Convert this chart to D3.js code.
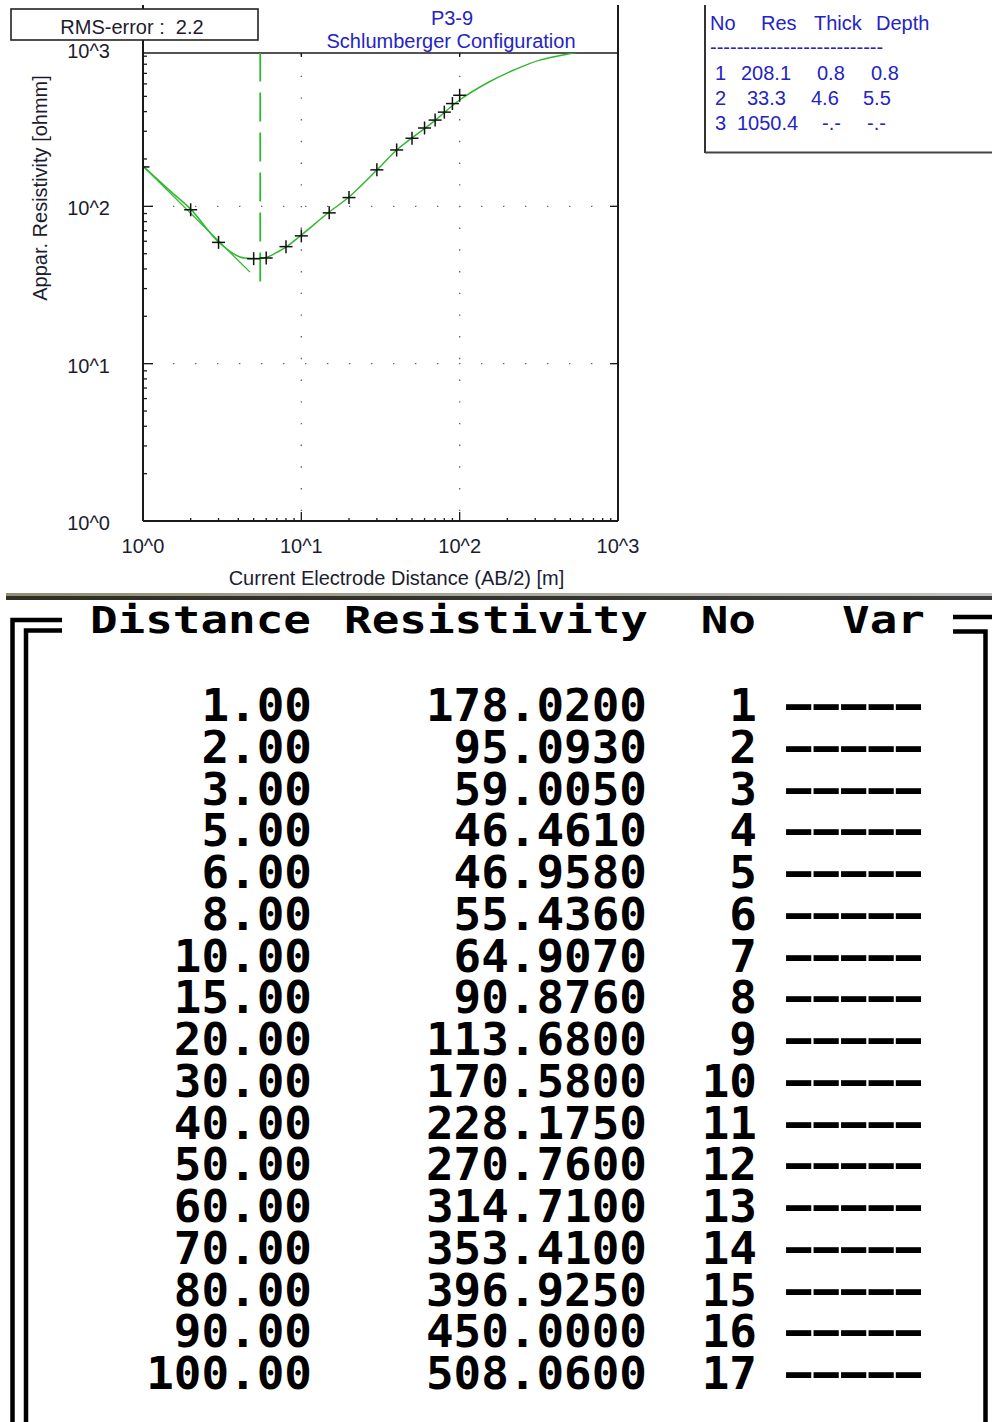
<!DOCTYPE html>
<html>
<head>
<meta charset="utf-8">
<script src="https://cdn.jsdelivr.net/npm/d3@7/dist/d3.min.js"></script>
<style>
  html, body { margin: 0; padding: 0; background: #ffffff; }
  svg { display: block; }
</style>
</head>
<body>
<script>
// ---------------- DATA ----------------
const abDistance = [1, 2, 3, 5, 6, 8, 10, 15, 20, 30, 40, 50, 60, 70, 80, 90, 100];
const appResistivity = [178.02, 95.093, 59.005, 46.461, 46.958, 55.436, 64.907, 90.876, 113.68,
                        170.58, 228.175, 270.76, 314.71, 353.41, 396.925, 450.0, 508.06];
const pointNo = [1, 2, 3, 4, 5, 6, 7, 8, 9, 10, 11, 12, 13, 14, 15, 16, 17];
const pointVar = ["-----", "-----", "-----", "-----", "-----", "-----", "-----", "-----", "-----",
                  "-----", "-----", "-----", "-----", "-----", "-----", "-----", "-----"];

// calculated model curve
const modelAB  = [1, 1.5, 2, 3, 4.1, 5, 6, 7, 8, 10, 15, 20, 30, 40, 50, 70, 100, 150, 220, 320, 520, 600];
const modelRho = [180, 124, 96, 59.3, 47.6, 46.6, 47.3, 51, 55, 65.7, 92, 114.6, 170, 228, 272, 352, 474, 610, 735, 850, 943, 968];

// auxiliary straight line
const auxAB  = [1, 4.74];
const auxRho = [180, 38.2];

// layer model
const layerNo    = ["1", "2", "3"];
const layerRes   = ["208.1", "33.3", "1050.4"];
const layerThick = ["0.8", "4.6", "-.-"];
const layerDepth = ["0.8", "5.5", "-.-"];
const boundaryDepth = 5.5;
const boundaryRes = [33.3, 1050.4];

const decadeTicks = [1, 10, 100, 1000];
const decadeLabels = ["10^0", "10^1", "10^2", "10^3"];
const rmsError = "2.2";

// ---------------- SETUP ----------------
const W = 992, H = 1422;
const svg = d3.select("body").append("svg").attr("width", W).attr("height", H);
svg.append("rect").attr("width", W).attr("height", H).attr("fill", "#ffffff");

const x = d3.scaleLog().domain([1, 1000]).range([143, 618]);
const y = d3.scaleLog().domain([1, 1000]).range([521, 49]);
const plotTop = 53;
const left = x(1), right = x(1000), bottom = y(1);

const sans = "'Liberation Sans', Arial, sans-serif";
const axisCol = "#1c1c30";
const blue = "#2424c4";
const green = "#2fb82f";

// clip
svg.append("defs").append("clipPath").attr("id", "plotclip")
  .append("rect").attr("x", left).attr("y", plotTop).attr("width", right - left).attr("height", bottom - plotTop);

// grid (dotted) at inner decades
const g = svg.append("g");
[10, 100].forEach(v => {
  g.append("line").attr("x1", x(v)).attr("x2", x(v)).attr("y1", plotTop + 1).attr("y2", bottom)
    .attr("stroke", "#666").attr("stroke-width", 1.4).attr("stroke-dasharray", "1.4,20.3");
  g.append("line").attr("x1", left + 8).attr("x2", right).attr("y1", y(v)).attr("y2", y(v))
    .attr("stroke", "#666").attr("stroke-width", 1.4).attr("stroke-dasharray", "1.4,20.6");
});

// minor tick values
const minors = [];
[1, 10, 100].forEach(d => { for (let m = 2; m <= 9; m++) minors.push(d * m); });

// ticks
const tk = svg.append("g").attr("stroke", "#1a1a1a").attr("stroke-width", 1.3);
minors.forEach(v => {
  tk.append("line").attr("x1", x(v)).attr("x2", x(v)).attr("y1", bottom).attr("y2", bottom - 3);
  tk.append("line").attr("x1", left).attr("x2", left + 4).attr("y1", y(v)).attr("y2", y(v));
});
[10, 100].forEach(v => {
  tk.append("line").attr("x1", x(v)).attr("x2", x(v)).attr("y1", bottom).attr("y2", bottom - 9);
  tk.append("line").attr("x1", left).attr("x2", left + 10).attr("y1", y(v)).attr("y2", y(v));
  tk.append("line").attr("x1", right).attr("x2", right - 8).attr("y1", y(v)).attr("y2", y(v));
  tk.append("line").attr("x1", x(v)).attr("x2", x(v)).attr("y1", plotTop).attr("y2", plotTop + 4);
});

// frame
const fr = svg.append("g").attr("stroke", "#1a1a1a").attr("fill", "none");
fr.append("line").attr("x1", left).attr("x2", left).attr("y1", 5).attr("y2", bottom).attr("stroke-width", 2);
fr.append("line").attr("x1", right).attr("x2", right).attr("y1", 5).attr("y2", bottom).attr("stroke-width", 2);
fr.append("line").attr("x1", left).attr("x2", right).attr("y1", bottom).attr("y2", bottom).attr("stroke-width", 2);
fr.append("line").attr("x1", left).attr("x2", right).attr("y1", plotTop).attr("y2", plotTop).attr("stroke-width", 1.6);

// curves
const plot = svg.append("g").attr("clip-path", "url(#plotclip)");
const lineGen = d3.line().x(d => x(d[0])).y(d => y(d[1])).curve(d3.curveCatmullRom.alpha(0.5));
plot.append("path").datum(auxAB.map((a, i) => [a, auxRho[i]]))
  .attr("d", d3.line().x(d => x(d[0])).y(d => y(d[1])))
  .attr("fill", "none").attr("stroke", green).attr("stroke-width", 1.3);
plot.append("path").datum(modelAB.map((a, i) => [a, modelRho[i]]))
  .attr("d", lineGen).attr("fill", "none").attr("stroke", green).attr("stroke-width", 1.5);
// layer boundary (dashed, drawn upward from layer-2 resistivity)
plot.append("line")
  .attr("x1", x(boundaryDepth)).attr("x2", x(boundaryDepth))
  .attr("y1", y(boundaryRes[0])).attr("y2", y(boundaryRes[1]))
  .attr("stroke", green).attr("stroke-width", 1.8).attr("stroke-dasharray", "29,11");

// crosses
const cr = plot.append("g").attr("stroke", "#111").attr("stroke-width", 1.5);
abDistance.forEach((a, i) => {
  const cx = x(a), cy = y(appResistivity[i]);
  cr.append("line").attr("x1", cx - 6.5).attr("x2", cx + 6.5).attr("y1", cy).attr("y2", cy);
  cr.append("line").attr("x1", cx).attr("x2", cx).attr("y1", cy - 6.5).attr("y2", cy + 6.5);
});

// axis labels
const lab = svg.append("g").attr("font-family", sans).attr("font-size", 20).attr("fill", axisCol);
decadeTicks.forEach((v, i) => {
  lab.append("text").attr("x", 110).attr("y", y(v) + 9).attr("text-anchor", "end").text(decadeLabels[i]);
  lab.append("text").attr("x", x(v)).attr("y", 553).attr("text-anchor", "middle").text(decadeLabels[i]);
});
lab.append("text").attr("x", (left + right) / 2 + 16).attr("y", 585).attr("text-anchor", "middle")
  .text("Current Electrode Distance (AB/2) [m]");
lab.append("text").attr("transform", "translate(47,188) rotate(-90)").attr("text-anchor", "middle")
  .text("Appar. Resistivity [ohmm]");

// RMS box
svg.append("rect").attr("x", 11).attr("y", 9).attr("width", 247).attr("height", 31)
  .attr("fill", "#ffffff").attr("stroke", "#222").attr("stroke-width", 1.6);
svg.append("text").attr("x", 132).attr("y", 34).attr("text-anchor", "middle")
  .attr("font-family", sans).attr("font-size", 20).attr("fill", axisCol)
  .attr("xml:space", "preserve").text("RMS-error :  " + rmsError);

// Title
svg.append("text").attr("x", 452).attr("y", 25).attr("text-anchor", "middle")
  .attr("font-family", sans).attr("font-size", 20).attr("fill", blue).text("P3-9");
svg.append("text").attr("x", 451).attr("y", 48).attr("text-anchor", "middle")
  .attr("font-family", sans).attr("font-size", 20).attr("fill", blue).text("Schlumberger Configuration");

// Layer table (top right)
svg.append("line").attr("x1", 705).attr("x2", 705).attr("y1", 5).attr("y2", 153).attr("stroke", "#333").attr("stroke-width", 2);
svg.append("line").attr("x1", 705).attr("x2", 992).attr("y1", 152.5).attr("y2", 152.5).attr("stroke", "#444").attr("stroke-width", 2);
const lt = svg.append("g").attr("font-family", sans).attr("font-size", 20).attr("fill", blue);
[["No", 710], ["Res", 761], ["Thick", 814], ["Depth", 876]].forEach(([t, px]) => {
  lt.append("text").attr("x", px).attr("y", 30).text(t);
});
lt.append("text").attr("x", 710).attr("y", 54).text("-".repeat(26));
const colX = [[715], [741, 747, 737], [817, 811, 822], [871, 863, 867]];
layerNo.forEach((n, i) => {
  const by = 80 + i * 25;
  lt.append("text").attr("x", colX[0][0]).attr("y", by).text(n);
  lt.append("text").attr("x", colX[1][i]).attr("y", by).text(layerRes[i]);
  lt.append("text").attr("x", colX[2][i]).attr("y", by).text(layerThick[i]);
  lt.append("text").attr("x", colX[3][i]).attr("y", by).text(layerDepth[i]);
});

// ---------------- Separator ----------------
const defs = svg.select("defs");
const gr1 = defs.append("linearGradient").attr("id", "sepTop");
gr1.append("stop").attr("offset", "0%").attr("stop-color", "#8e8e72");
gr1.append("stop").attr("offset", "100%").attr("stop-color", "#c4c4c4");
const gr2 = defs.append("linearGradient").attr("id", "sepBot");
gr2.append("stop").attr("offset", "0%").attr("stop-color", "#2e2e22");
gr2.append("stop").attr("offset", "100%").attr("stop-color", "#3a3a3a");
svg.append("rect").attr("x", 6).attr("y", 593).attr("width", W - 6).attr("height", 3).attr("fill", "url(#sepTop)");
svg.append("rect").attr("x", 6).attr("y", 596).attr("width", W - 6).attr("height", 4).attr("fill", "url(#sepBot)");

// ---------------- DOS table ----------------
const fb = svg.append("g").attr("stroke", "#000").attr("fill", "none").attr("stroke-width", 4.5);
fb.append("path").attr("d", "M12.5,1422 V620 H62");
fb.append("path").attr("d", "M26,1422 V630.5 H62");
fb.append("path").attr("d", "M953,617 H992");
fb.append("path").attr("d", "M953,631.5 H985.5 V1422");

const mono = "'DejaVu Sans Mono', monospace";
const hdr = svg.append("g").attr("font-family", mono).attr("font-weight", "bold").attr("font-size", 45).attr("fill", "#000");
[["Distance", 311], ["Resistivity", 648], ["No", 756], ["Var", 925]].forEach(([t, ex]) => {
  hdr.append("text").attr("transform", `translate(${ex},633) scale(1.02,0.84)`)
    .attr("text-anchor", "end").text(t);
});

const rows = svg.append("g").attr("font-family", mono).attr("font-weight", "bold").attr("font-size", 45).attr("fill", "#000");
abDistance.forEach((a, i) => {
  const by = 721 + i * 41.75;
  rows.append("text").attr("transform", `translate(312,${by}) scale(1.02,1)`).attr("text-anchor", "end").text(a.toFixed(2));
  rows.append("text").attr("transform", `translate(647,${by}) scale(1.02,1)`).attr("text-anchor", "end").text(appResistivity[i].toFixed(4));
  rows.append("text").attr("transform", `translate(757,${by}) scale(1.02,1)`).attr("text-anchor", "end").text(String(pointNo[i]));
  rows.append("text").attr("transform", `translate(774,${by - 2}) scale(1.82,0.9)`)
    .attr("letter-spacing", -12).text(pointVar[i]);
});
</script>
</body>
</html>
